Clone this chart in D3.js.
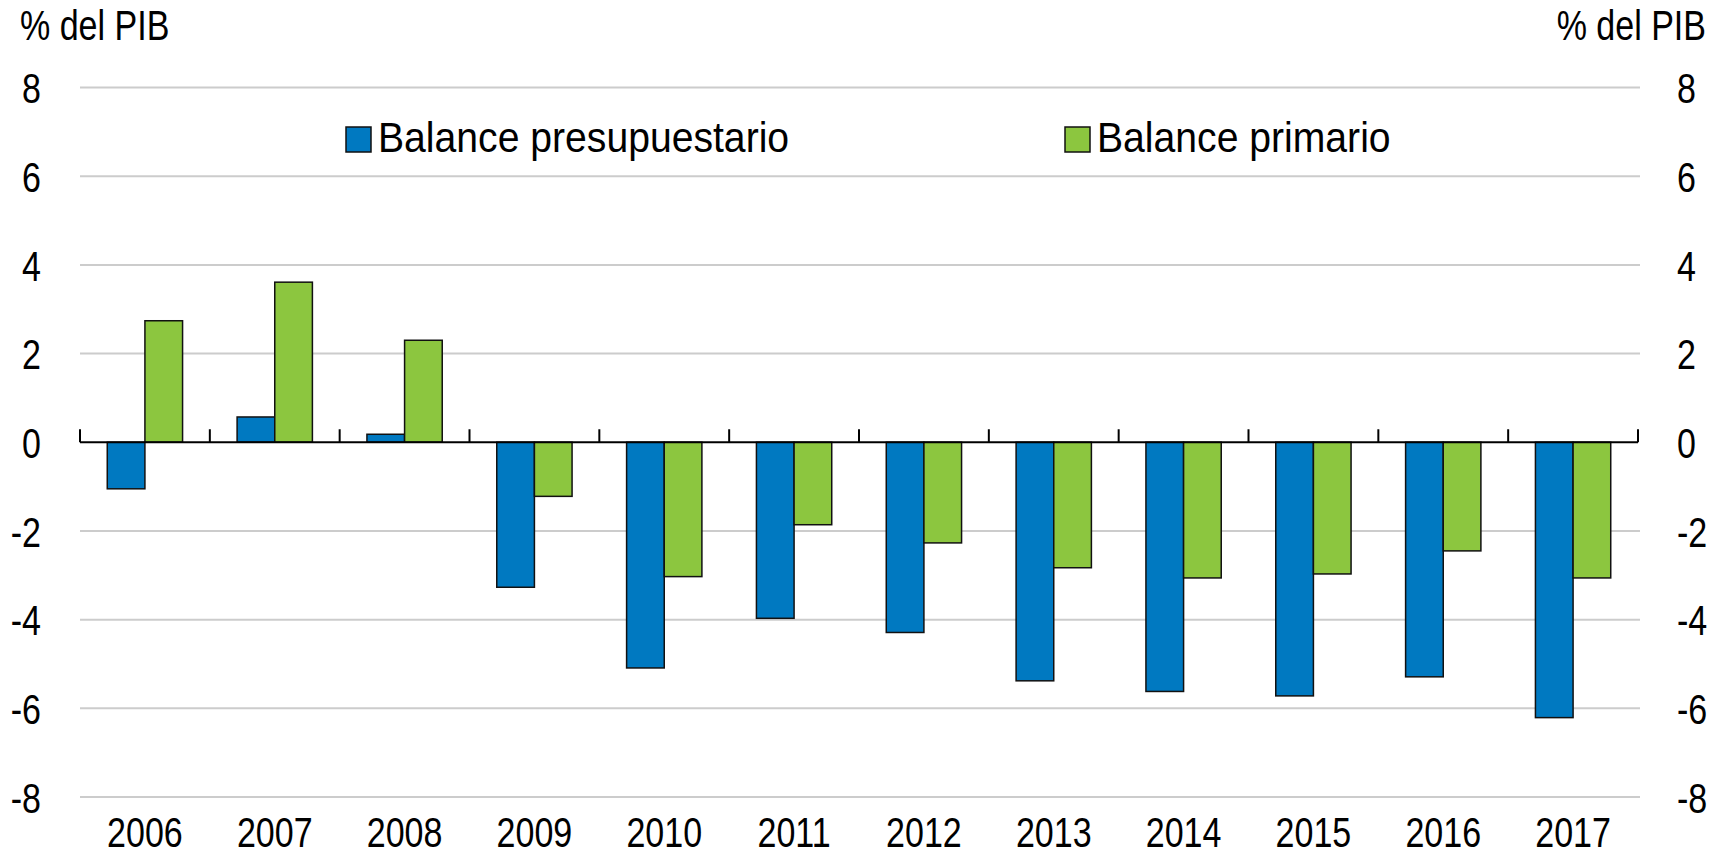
<!DOCTYPE html>
<html>
<head>
<meta charset="utf-8">
<script src="https://cdn.jsdelivr.net/npm/d3@7"></script>
<style>
  html, body { margin: 0; padding: 0; background: #fff; }
  svg text { font-family: 'Liberation Sans', Arial, sans-serif; fill: #000; }
</style>
</head>
<body>
<script>
// data
var years = ['2006','2007','2008','2009','2010','2011','2012','2013','2014','2015','2016','2017'];
var presupuestario = [-1.05, 0.57, 0.18, -3.27, -5.09, -3.97, -4.29, -5.38, -5.62, -5.72, -5.29, -6.21];
var primario = [2.74, 3.61, 2.30, -1.22, -3.03, -1.86, -2.27, -2.83, -3.06, -2.97, -2.45, -3.06];
var seriesNames = ['Balance presupuestario', 'Balance primario'];
var yTicks = [8, 6, 4, 2, 0, -2, -4, -6, -8];
var unitLabel = '% del PIB';

var width = 1727, height = 856;
var plotLeft = 80, plotRight = 1638, plotTop = 87.5, plotBottom = 797;
var colors = ['#0079c1', '#8cc63f'];
var axisScaleX = 0.81, legendScaleX = 0.91;

var svg = d3.select('body').append('svg')
  .attr('width', width).attr('height', height);

var x = d3.scaleBand().domain(years).range([plotLeft, plotRight]);
var bw = x.bandwidth();
var x1 = d3.scaleBand().domain([0, 1]).range([bw * 0.21, bw * 0.79]);
var y = d3.scaleLinear().domain([-8, 8]).range([plotBottom, plotTop]);

// gridlines
svg.append('g')
  .selectAll('line')
  .data(yTicks.filter(function(d) { return d !== 0; }))
  .enter().append('line')
  .attr('x1', plotLeft).attr('x2', plotRight + 2)
  .attr('y1', function(d) { return y(d); })
  .attr('y2', function(d) { return y(d); })
  .attr('stroke', '#cccccc')
  .attr('stroke-width', 2);

// bars
var rows = years.map(function(yr, i) {
  return { year: yr, vals: [presupuestario[i], primario[i]] };
});

var groups = svg.append('g').selectAll('g')
  .data(rows)
  .enter().append('g')
  .attr('transform', function(d) { return 'translate(' + x(d.year) + ',0)'; });

groups.selectAll('rect')
  .data(function(d) { return d.vals.map(function(v, k) { return { k: k, v: v }; }); })
  .enter().append('rect')
  .attr('x', function(d) { return x1(d.k); })
  .attr('width', x1.bandwidth())
  .attr('y', function(d) { return y(Math.max(0, d.v)); })
  .attr('height', function(d) { return Math.abs(y(d.v) - y(0)); })
  .attr('fill', function(d) { return colors[d.k]; })
  .attr('stroke', '#111')
  .attr('stroke-width', 1.5);

// zero line with ticks between categories
svg.append('line')
  .attr('x1', plotLeft).attr('x2', plotRight)
  .attr('y1', y(0)).attr('y2', y(0))
  .attr('stroke', '#000').attr('stroke-width', 2);

svg.append('g').selectAll('line')
  .data(years.concat(['end']))
  .enter().append('line')
  .attr('x1', function(d, i) { return plotLeft + i * bw; })
  .attr('x2', function(d, i) { return plotLeft + i * bw; })
  .attr('y1', y(0)).attr('y2', y(0) - 13)
  .attr('stroke', '#000').attr('stroke-width', 2);

// y axes (labels only), plain hyphen for negatives like the original
var fmt = function(d) { return String(d); };
var leftAxis = svg.append('g')
  .attr('transform', 'translate(41,0)')
  .call(d3.axisLeft(y).tickValues(yTicks).tickSize(0).tickPadding(0).tickFormat(fmt));
var rightAxis = svg.append('g')
  .attr('transform', 'translate(1677,0)')
  .call(d3.axisRight(y).tickValues(yTicks).tickSize(0).tickPadding(0).tickFormat(fmt));

[leftAxis, rightAxis].forEach(function(ax) {
  ax.select('.domain').remove();
  ax.selectAll('text')
    .attr('font-size', 42)
    .attr('font-family', "'Liberation Sans', Arial, sans-serif")
    .attr('fill', '#000')
    .attr('dy', '0.36em')
    .attr('transform', 'scale(' + axisScaleX + ',1)');
});

// x axis labels
var xAxis = svg.append('g')
  .attr('transform', 'translate(0,847)')
  .call(d3.axisBottom(x).tickSize(0).tickPadding(0));
xAxis.select('.domain').remove();
xAxis.selectAll('text')
  .attr('font-size', 42)
  .attr('font-family', "'Liberation Sans', Arial, sans-serif")
  .attr('fill', '#000')
  .attr('y', 0).attr('dy', 0)
  .attr('transform', 'scale(' + axisScaleX + ',1)');

// unit labels
svg.append('g').attr('transform', 'translate(20,40)')
  .append('text')
  .attr('font-size', 42)
  .attr('transform', 'scale(' + axisScaleX + ',1)')
  .text(unitLabel);
svg.append('g').attr('transform', 'translate(1706,40)')
  .append('text')
  .attr('font-size', 42)
  .attr('text-anchor', 'end')
  .attr('transform', 'scale(' + axisScaleX + ',1)')
  .text(unitLabel);

// legend
var legendX = [346, 1065];
var leg = svg.append('g').selectAll('g')
  .data(seriesNames)
  .enter().append('g')
  .attr('transform', function(d, i) { return 'translate(' + legendX[i] + ',127)'; });
leg.append('rect')
  .attr('width', 25).attr('height', 25)
  .attr('fill', function(d, i) { return colors[i]; })
  .attr('stroke', '#111').attr('stroke-width', 1.5);
leg.append('g').attr('transform', 'translate(32,25)')
  .append('text')
  .attr('font-size', 43)
  .attr('transform', 'scale(' + legendScaleX + ',1)')
  .text(function(d) { return d; });
</script>
</body>
</html>
